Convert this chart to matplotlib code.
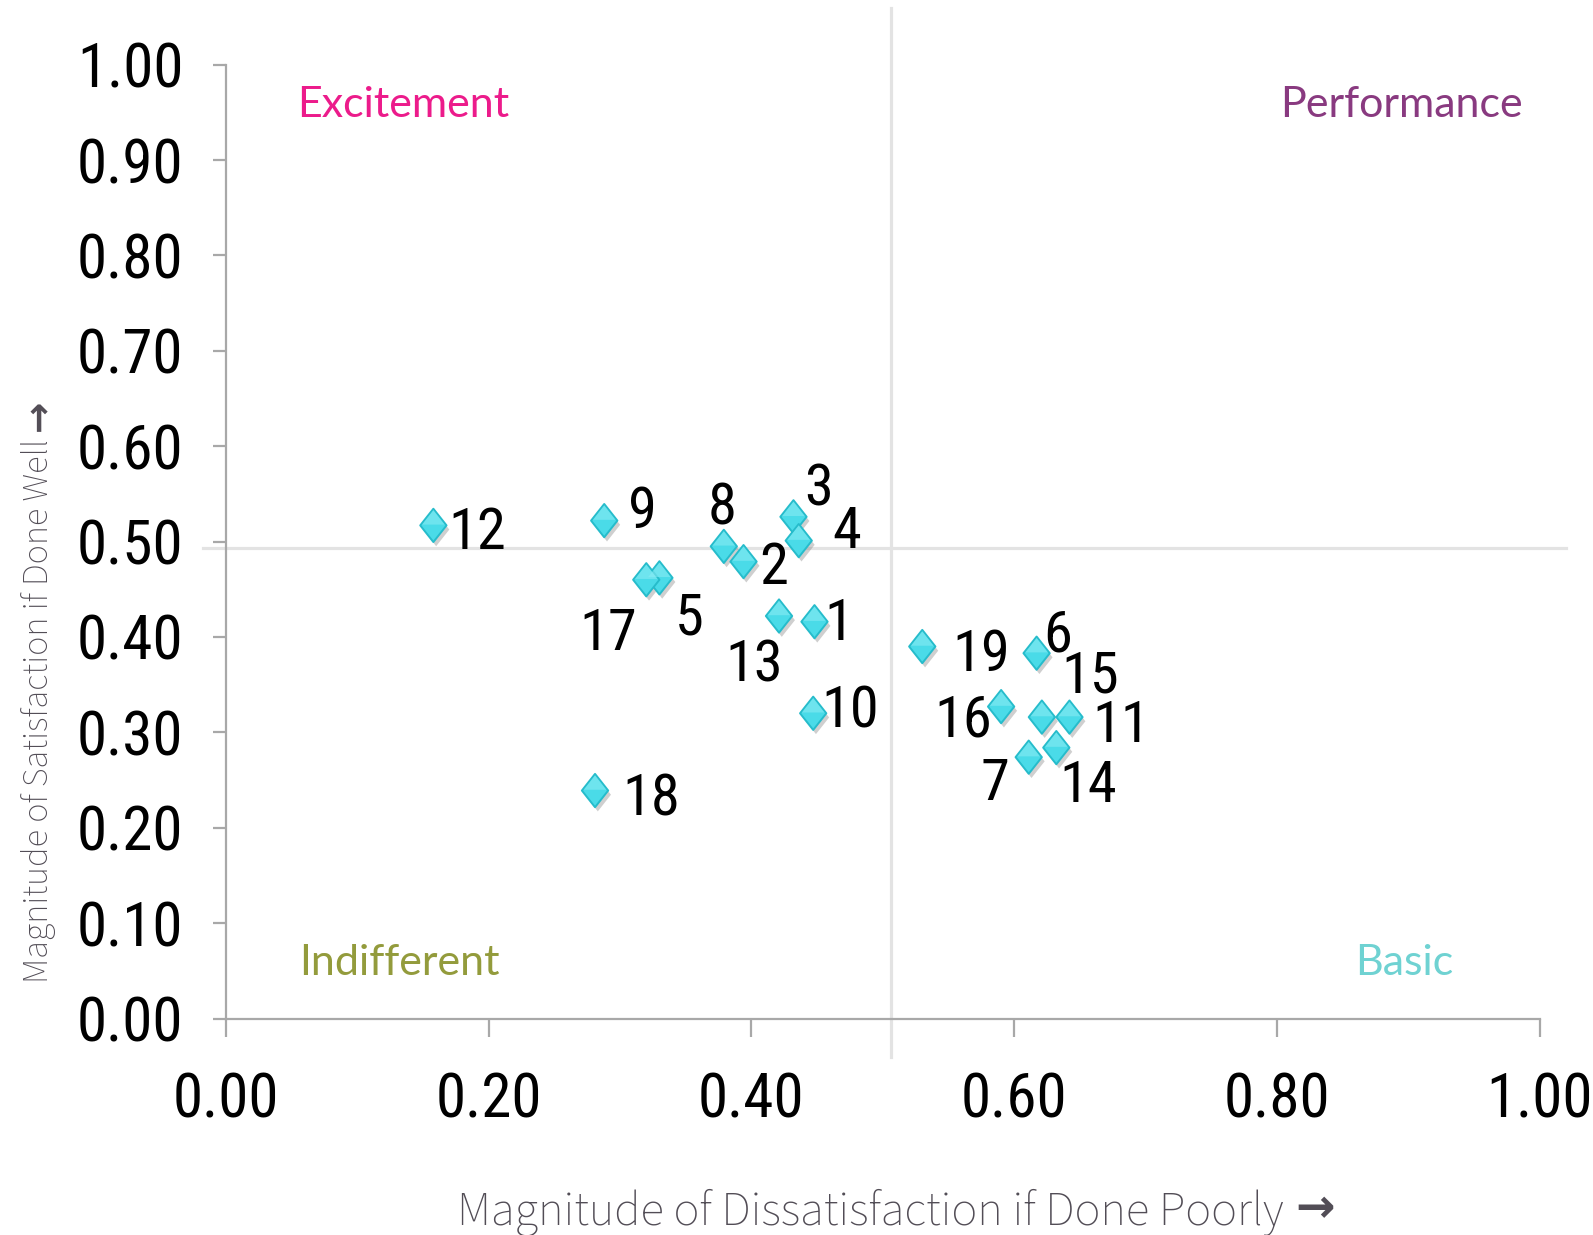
import matplotlib
matplotlib.use("Agg")
import matplotlib.pyplot as plt
import matplotlib.patheffects as pe
from matplotlib import font_manager
from matplotlib.path import Path

# ---- data -------------------------------------------------------------
item_ids = ["1", "2", "3", "4", "5", "6", "7", "8", "9", "10",
            "11", "12", "13", "14", "15", "16", "17", "18", "19"]
dissatisfaction = [0.448, 0.394, 0.432, 0.436, 0.330, 0.617, 0.611, 0.379, 0.288, 0.447,
                   0.642, 0.158, 0.421, 0.632, 0.621, 0.590, 0.320, 0.281, 0.530]
satisfaction = [0.416, 0.479, 0.526, 0.501, 0.462, 0.383, 0.274, 0.495, 0.522, 0.320,
                0.316, 0.517, 0.422, 0.284, 0.316, 0.327, 0.460, 0.239, 0.390]
tick_values = [0.0, 0.1, 0.2, 0.3, 0.4, 0.5, 0.6, 0.7, 0.8, 0.9, 1.0]
x_tick_values = [0.0, 0.2, 0.4, 0.6, 0.8, 1.0]
quadrants = ["Excitement", "Performance", "Indifferent", "Basic"]
x_title = "Magnitude of Dissatisfaction if Done Poorly"
y_title = "Magnitude of Satisfaction if Done Well"
arrow = "\u2192"

# label placement around each marker (pixels: right, down)
label_offsets = {
    "1": (24, -3), "2": (30, 1), "3": (25, -33), "4": (48, -14), "5": (30, 35),
    "6": (21, -23), "7": (-34, 21), "8": (-2, -43), "9": (38, -14), "10": (37, -7),
    "11": (52, 3), "12": (44, 2), "13": (-25, 44), "14": (32, 33), "15": (48, -46),
    "16": (-38, 8), "17": (-38, 49), "18": (56, 3), "19": (59, 3),
}


# ---- fonts ------------------------------------------------------------
def _weight_num(w):
    if isinstance(w, int):
        return w
    return font_manager.weight_dict.get(str(w), 400)


def family_with_weight(cands, lo, hi):
    for c in cands:
        if any(f.name == c and lo <= _weight_num(f.weight) <= hi
               for f in font_manager.fontManager.ttflist):
            return c
    return None


num_font = family_with_weight(["Liberation Sans Narrow", "Roboto Condensed", "Arial Narrow",
                               "Liberation Sans"], 350, 450) or "DejaVu Sans"
quad_font = family_with_weight(["Source Sans Pro", "Source Sans 3", "Lato", "Open Sans"],
                               380, 420) or "DejaVu Sans"
title_font = family_with_weight(["Source Sans Pro", "Source Sans 3", "Lato", "Open Sans",
                                 "Roboto"], 200, 300)
title_weight = "light"
if title_font is None:
    title_font, title_weight = quad_font, "normal"

PX = 72.0 / 100.0  # points per pixel at dpi 100

fig = plt.figure(figsize=(15.93, 12.35), dpi=100)
ax = fig.add_axes([0.1417, 0.1753, 0.8250, 0.7723])
ax.set_xlim(0, 1)
ax.set_ylim(0, 1)

axis_grey = "#a8a8a8"
for side in ("top", "right"):
    ax.spines[side].set_visible(False)
for side in ("left", "bottom"):
    ax.spines[side].set_color(axis_grey)
    ax.spines[side].set_linewidth(1.6)

ax.set_xticks(x_tick_values)
ax.set_yticks(tick_values)
ax.set_xticklabels([f"{v:.2f}" for v in x_tick_values])
ax.set_yticklabels([f"{v:.2f}" for v in tick_values])
ax.tick_params(axis="y", length=9.5, width=1.6, color=axis_grey, pad=21,
               labelsize=44, labelcolor="black")
ax.tick_params(axis="x", length=13, width=1.6, color=axis_grey, pad=25,
               labelsize=44, labelcolor="black")
for lab in ax.get_xticklabels() + ax.get_yticklabels():
    lab.set_family(num_font)

# quadrant divider lines
divider = "#e3e3e3"
ax.plot([0.506, 0.506], [-0.04, 1.059], color=divider, lw=2.3, clip_on=False, zorder=1)
ax.plot([-0.017, 1.020], [0.493, 0.493], color=divider, lw=2.3, clip_on=False, zorder=1)

# diamond markers
diamond = Path([(0, 1), (0.79, 0), (0, -1), (-0.79, 0), (0, 1)],
               [Path.MOVETO, Path.LINETO, Path.LINETO, Path.LINETO, Path.CLOSEPOLY])
ax.scatter(dissatisfaction, satisfaction, marker=diamond, s=24 ** 2,
           facecolor="#4adbe8", edgecolor="#26bccb", linewidth=1.4, zorder=3,
           path_effects=[pe.SimplePatchShadow(offset=(2, -3), shadow_rgbFace="#777777",
                                              alpha=0.35), pe.Normal()])
# lighter upper sheen on each diamond
sheen = Path([(0, 0.95), (0.7, 0.05), (-0.7, 0.05), (0, 0.95)],
             [Path.MOVETO, Path.LINETO, Path.LINETO, Path.CLOSEPOLY])
ax.scatter(dissatisfaction, satisfaction, marker=sheen, s=22 ** 2,
           facecolor="#8cecf4", edgecolor="none", alpha=0.55, zorder=4)

cap = 43
for name, xv, yv in zip(item_ids, dissatisfaction, satisfaction):
    dx, dy = label_offsets[name]
    ax.annotate(name, (xv, yv), xytext=(dx * PX, -(dy + cap / 2) * PX),
                textcoords="offset points", ha="center", va="baseline",
                fontsize=42, family=num_font, color="black", zorder=5)

# quadrant names
quad_colors = ["#ec1b8b", "#893a80", "#939b3c", "#6fd2d2"]
qkw = dict(fontsize=31, family=quad_font, weight="normal", va="baseline")
ax.text(0.054, 0.945, quadrants[0], color=quad_colors[0], ha="left", **qkw)
ax.text(0.987, 0.945, quadrants[1], color=quad_colors[1], ha="right", **qkw)
ax.text(0.056, 0.0456, quadrants[2], color=quad_colors[2], ha="left", **qkw)
ax.text(0.859, 0.0456, quadrants[3], color=quad_colors[3], ha="left", **qkw)

# axis titles, each followed by a heavier arrow
title_color = "#524d56"
fig.canvas.draw()
renderer = fig.canvas.get_renderer()

xt = fig.text(457 / 1593, 0.0089, x_title, color=title_color, fontsize=35,
              family=title_font, weight=title_weight, ha="left", va="baseline")
bb = xt.get_window_extent(renderer)
fig.text((bb.x1 + 12) / 1593, 0.0089 + 2 / 1235, arrow, color=title_color, fontsize=34,
         family="DejaVu Sans", weight="bold", ha="left", va="baseline")

yt = fig.text(0.0242, (1235 - 983) / 1235, y_title, color=title_color, fontsize=26,
              family=title_font, weight=title_weight, ha="center", va="bottom",
              rotation=90, rotation_mode="default")
bb = yt.get_window_extent(renderer)
fig.text(0.0242 + 1.5 / 1593, (bb.y1 + 8) / 1235, arrow, color=title_color, fontsize=27,
         family="DejaVu Sans", weight="bold", ha="center", va="bottom", rotation=90)

fig.savefig("out.png", dpi=100, facecolor="white")
